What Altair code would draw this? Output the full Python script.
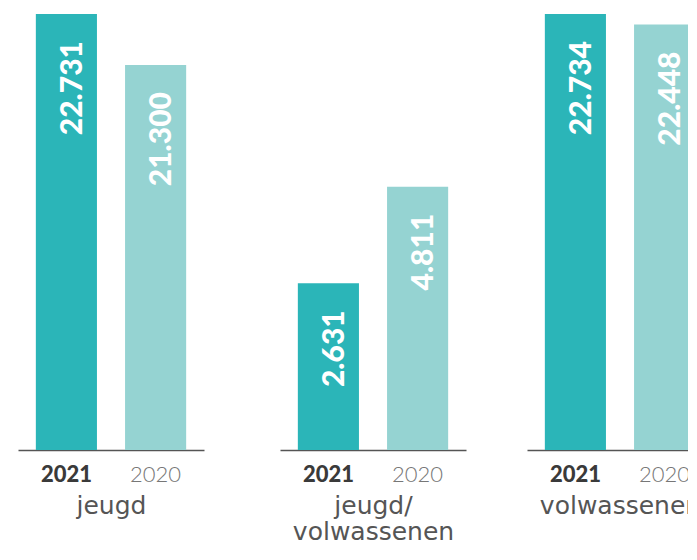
import altair as alt
import pandas as pd

groups = ["jeugd", "jeugd/volwassenen", "volwassenen"]
group_titles = ["jeugd", ["jeugd/", "volwassenen"], "volwassenen"]
years = ["2021", "2020"]
values_2021 = [22731, 2631, 22734]
values_2020 = [21300, 4811, 22448]
# bar lengths as drawn in the picture (same units, tallest bar = 22734)
drawn_2021 = [22731, 8692, 22734]
drawn_2020 = [20071, 13729, 22186]

colors = ["#2bb5b8", "#95d3d2"]

rows = []
for i, g in enumerate(groups):
    for y, v, d in (("2021", values_2021[i], drawn_2021[i]), ("2020", values_2020[i], drawn_2020[i])):
        rows.append({"group": g, "year": y, "value": v, "length": d,
                     "label": f"{v:,}".replace(",", ".")})
data = pd.DataFrame(rows)


def panel(i):
    df = data[data.group == groups[i]]
    base = alt.Chart(df).encode(
        x=alt.X("year:N", sort=years,
                scale=alt.Scale(paddingInner=0.315, paddingOuter=0.2),
                axis=alt.Axis(title=group_titles[i]))
    )
    bars = base.mark_bar().encode(
        y=alt.Y("length:Q", scale=alt.Scale(domain=[0, 22734], nice=False), axis=None),
        color=alt.Color("year:N", scale=alt.Scale(domain=years, range=colors), legend=None),
    )
    text = base.mark_text(angle=270, align="right", baseline="alphabetic", dx=-27, dy=15.5,
                          font="Lato", fontWeight=900, fontSize=30, color="white").encode(
        y=alt.Y("length:Q"),
        text="label:N",
    )
    return (bars + text).properties(width=186, height=436)


chart = alt.hconcat(
    alt.hconcat(panel(0), panel(1), spacing=76),
    panel(2), spacing=61,
).properties(
    padding={"left": 10, "top": 6, "right": -25, "bottom": 0}
).configure_view(stroke=None).configure_axisX(
    domainColor="#555555", domainWidth=1.5, ticks=False, grid=False,
    labelAngle=0, labelPadding=14, labelFontSize=22,
    labelFont="Lato",
    labelFontWeight={"condition": {"test": "datum.value == '2021'", "value": 900}, "value": 300},
    labelColor={"condition": {"test": "datum.value == '2021'", "value": "#3a3a3a"}, "value": "#777777"},
    titleFont="DejaVu Sans", titleFontSize=25, titleFontWeight="normal", titleColor="#555555",
    titlePadding=8, titleLineHeight=26,
)

chart.save("out.html", embed_options={"renderer": "svg", "actions": False})
